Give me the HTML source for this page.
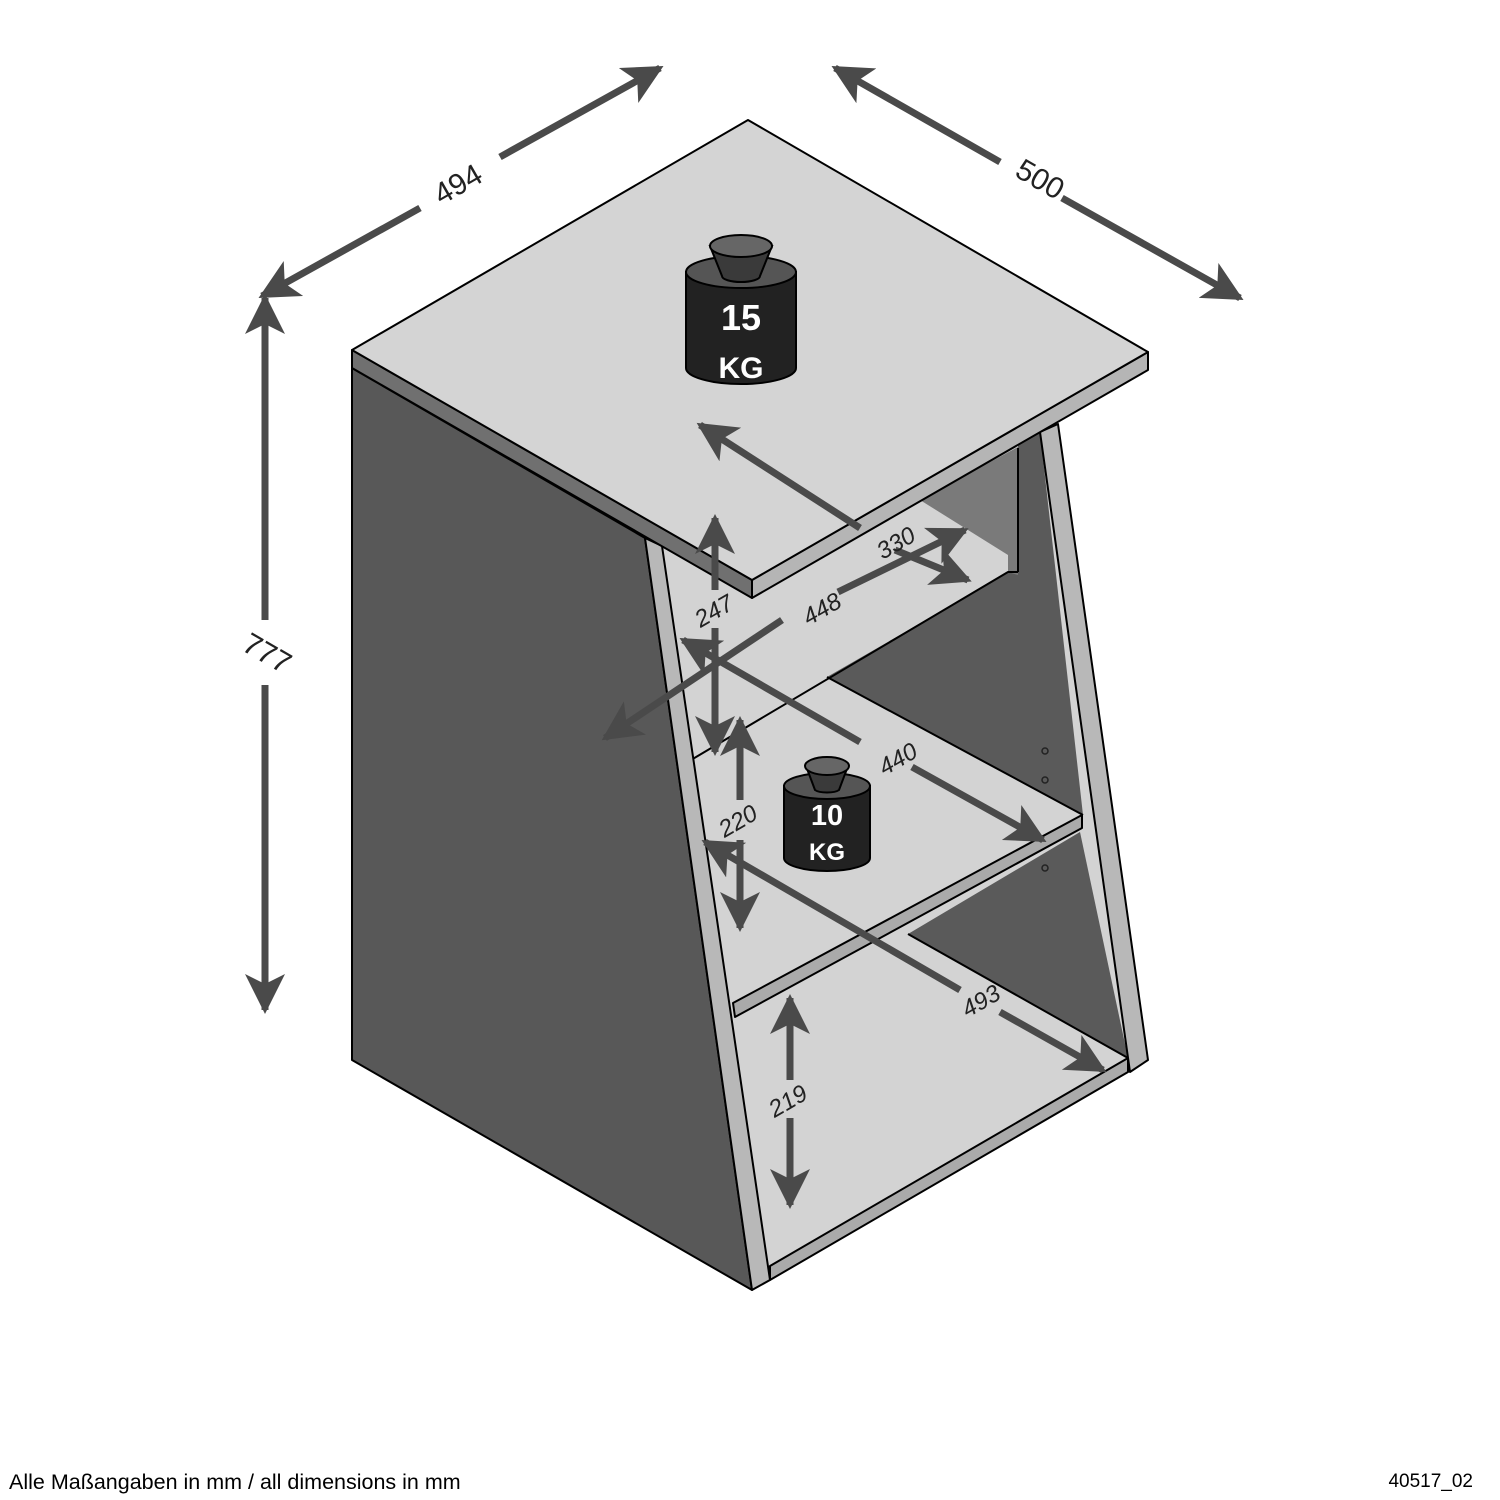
<!DOCTYPE html>
<html><head><meta charset="utf-8"><style>
html,body{margin:0;padding:0;background:#fff;}
svg{display:block;}
</style></head><body>
<svg width="1500" height="1500" viewBox="0 0 1500 1500" xmlns="http://www.w3.org/2000/svg" font-family="Liberation Sans, sans-serif">
<defs>
<marker id="ah" viewBox="0 0 10 10" refX="9" refY="5" markerWidth="40" markerHeight="40" markerUnits="userSpaceOnUse" orient="auto-start-reverse">
<path d="M0,0 L10,5 L0,10 L2.5,5 Z" fill="#4a4a4a"/>
</marker>
</defs>
<g stroke="#000" stroke-width="2" stroke-linejoin="round">
<polygon points="352,368 645,538 752,1290 352,1060" fill="#585858"/>
<polygon points="662,548 1040,432 1130,1072 770,1280" fill="#d3d3d3" stroke="none"/>
<polygon points="1018,445 1040,432 1083,815 827,677 1018,567" fill="#5a5a5a" stroke="none"/>
<polygon points="908,934 1080,832 1128,1058" fill="#5a5a5a" stroke="none"/>
<polygon points="920,500 1018,447 1018,575 1008,572 1008,555" fill="#7a7a7a" stroke="none"/>
<line x1="1018" y1="448" x2="1018" y2="572"/>
<polyline points="691,760 1008,572 1018,572" fill="none"/>
<line x1="827" y1="677" x2="1083" y2="815"/>
<line x1="908" y1="934" x2="1128" y2="1058"/>
<polygon points="733,1003 1082,815 1082,828 735,1017" fill="#aaaaaa"/>
<polygon points="770,1266 1128,1058 1128,1072 770,1280" fill="#aaaaaa"/>
<polygon points="645,538 662,546 770,1280 752,1290" fill="#b8b8b8"/>
<polygon points="1040,432 1058,424 1148,1060 1130,1072" fill="#b8b8b8"/>
<polygon points="352,350 752,580 752,598 352,368" fill="#707070"/>
<polygon points="752,580 1148,352 1148,370 752,598" fill="#b5b5b5"/>
<polygon points="352,350 748,120 1148,352 752,580" fill="#d4d4d4"/>
</g>
<g fill="none" stroke="#222" stroke-width="1.5"><circle cx="1045" cy="751" r="3"/><circle cx="1045" cy="780" r="3"/><circle cx="1045" cy="868" r="3"/></g>

<g stroke="#000" stroke-width="2">
<path d="M686,272 L686,368 A55,16 0 0 0 796,368 L796,272 Z" fill="#222"/>
<ellipse cx="741" cy="272" rx="55" ry="16" fill="#555"/>
<path d="M710,246 L722,276 A19,6 0 0 0 760,276 L772,246 Z" fill="#3a3a3a"/>
<ellipse cx="741" cy="246" rx="31" ry="11" fill="#666"/>
</g>
<text x="741" y="330" fill="#fff" font-size="36" font-weight="bold" text-anchor="middle">15</text>
<text x="741" y="378" fill="#fff" font-size="30" font-weight="bold" text-anchor="middle">KG</text>
<g stroke="#000" stroke-width="2">
<path d="M784,786 L784,858 A43,13 0 0 0 870,858 L870,786 Z" fill="#222"/>
<ellipse cx="827" cy="786" rx="43" ry="13" fill="#555"/>
<path d="M806,766 L815,790 A13,4 0 0 0 839,790 L848,766 Z" fill="#3a3a3a"/>
<ellipse cx="827" cy="766" rx="22" ry="9" fill="#666"/>
</g>
<text x="827" y="825" fill="#fff" font-size="29" font-weight="bold" text-anchor="middle">10</text>
<text x="827" y="860" fill="#fff" font-size="24" font-weight="bold" text-anchor="middle">KG</text>

<g stroke="#4a4a4a" stroke-width="7" fill="none">
<line x1="420" y1="208" x2="262" y2="296" marker-end="url(#ah)"/>
<line x1="500" y1="157" x2="660" y2="68" marker-end="url(#ah)"/>
<line x1="1000" y1="162" x2="835" y2="68" marker-end="url(#ah)"/>
<line x1="1062" y1="198" x2="1240" y2="298" marker-end="url(#ah)"/>
<line x1="265" y1="620" x2="265" y2="298" marker-end="url(#ah)"/>
<line x1="265" y1="685" x2="265" y2="1010" marker-end="url(#ah)"/>
<line x1="860" y1="528" x2="700" y2="425" marker-end="url(#ah)"/>
<line x1="895" y1="550" x2="968" y2="580" marker-end="url(#ah)"/>
<line x1="782" y1="620" x2="605" y2="738" marker-end="url(#ah)"/>
<line x1="838" y1="592" x2="965" y2="530" marker-end="url(#ah)"/>
<line x1="715" y1="590" x2="715" y2="518" marker-end="url(#ah)"/>
<line x1="715" y1="628" x2="715" y2="752" marker-end="url(#ah)"/>
<line x1="860" y1="742" x2="683" y2="640" marker-end="url(#ah)"/>
<line x1="912" y1="767" x2="1043" y2="840" marker-end="url(#ah)"/>
<line x1="740" y1="800" x2="740" y2="720" marker-end="url(#ah)"/>
<line x1="740" y1="840" x2="740" y2="928" marker-end="url(#ah)"/>
<line x1="960" y1="990" x2="705" y2="842" marker-end="url(#ah)"/>
<line x1="1000" y1="1012" x2="1103" y2="1070" marker-end="url(#ah)"/>
<line x1="790" y1="1080" x2="790" y2="998" marker-end="url(#ah)"/>
<line x1="790" y1="1118" x2="790" y2="1205" marker-end="url(#ah)"/>
</g>
<g fill="#222" font-size="30" text-anchor="middle">
<text transform="translate(463,193) rotate(-30)">494</text>
<text transform="translate(1035,188) rotate(30)">500</text>
<text transform="translate(262,662) rotate(30)">777</text>
</g>
<g fill="#222" font-size="24" text-anchor="middle" font-style="italic">
<text transform="translate(900,550) rotate(-30)">330</text>
<text transform="translate(826,616) rotate(-30)">448</text>
<text transform="translate(718,618) rotate(-30)">247</text>
<text transform="translate(902,766) rotate(-30)">440</text>
<text transform="translate(742,828) rotate(-30)">220</text>
<text transform="translate(985,1008) rotate(-30)">493</text>
<text transform="translate(792,1108) rotate(-30)">219</text>
</g>
<text x="9" y="1489" font-size="21.5" fill="#000">Alle Maßangaben in mm / all dimensions in mm</text>
<text x="1473" y="1487" font-size="19" fill="#000" text-anchor="end">40517_02</text>
</svg>
</body></html>
